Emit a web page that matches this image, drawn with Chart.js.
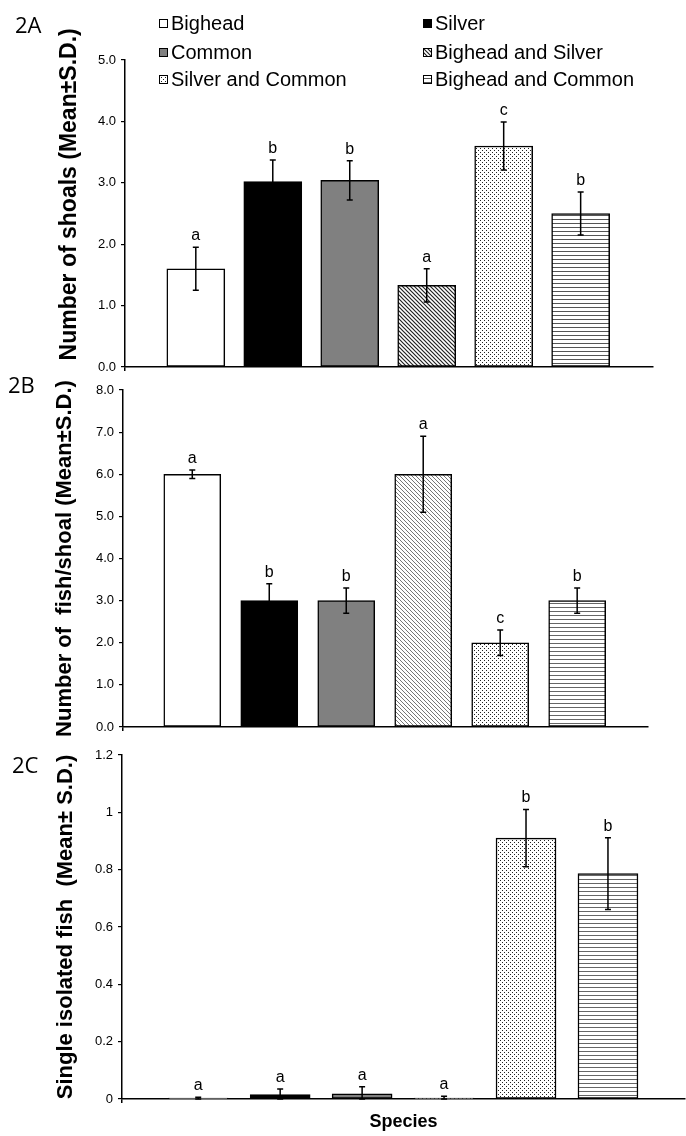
<!DOCTYPE html>
<html>
<head>
<meta charset="utf-8">
<script src="https://cdn.jsdelivr.net/npm/chart.js@4.4.1/dist/chart.umd.min.js"></script>
<style>
  html, body { margin: 0; padding: 0; background: #fff; }
  #page { position: relative; width: 686px; height: 1136px; overflow: hidden; font-family: 'Liberation Sans', Arial, sans-serif; }
  #page canvas.panel { position: absolute; left: 0; top: 0; }
  .tag { position: absolute; font-family: 'Open Sans', sans-serif; font-size: 22px; line-height: 22px; color: #000; }
  .key { position: absolute; height: 24px; line-height: 24px; font-size: 20px; color: #000; display: flex; align-items: center; white-space: nowrap; }
  .key canvas { margin-right: 3px; }
</style>
</head>
<body>
<div id="page">
  <canvas id="chartA" class="panel" width="686" height="1136"></canvas>
  <canvas id="chartB" class="panel" width="686" height="1136"></canvas>
  <canvas id="chartC" class="panel" width="686" height="1136"></canvas>
  <div class="tag" style="left:15px;top:13px">2A</div>
  <div class="tag" style="left:8px;top:373px">2B</div>
  <div class="tag" style="left:12px;top:753px">2C</div>
  <div id="legend"></div>
</div>
<script>
const species = ['Bighead', 'Silver', 'Common', 'Bighead and Silver', 'Silver and Common', 'Bighead and Common'];

// 2A - number of shoals
const shoalMean = [1.6, 3.02, 3.04, 1.33, 3.6, 2.5];
const shoalSD = [0.35, 0.35, 0.32, 0.27, 0.39, 0.35];
const shoalLetters = ['a', 'b', 'b', 'a', 'c', 'b'];

// 2B - number of fish per shoal
const fishMean = [6.0, 3.0, 3.0, 6.0, 2.0, 3.0];
const fishSD = [0.1, 0.4, 0.3, 0.9, 0.3, 0.3];
const fishLetters = ['a', 'b', 'b', 'a', 'c', 'b'];

// 2C - single isolated fish
const singleMean = [0.003, 0.015, 0.018, 0.003, 0.91, 0.786];
const singleSD = [0.003, 0.02, 0.025, 0.007, 0.1, 0.125];
const singleLetters = ['a', 'a', 'a', 'a', 'b', 'b'];

const FONT = "'Liberation Sans', Arial, sans-serif";
const helper = document.getElementById('chartA').getContext('2d');

function tile(w, h, draw) {
  const c = document.createElement('canvas');
  c.width = w; c.height = h;
  const g = c.getContext('2d');
  g.fillStyle = '#fff';
  g.fillRect(0, 0, w, h);
  draw(g);
  return helper.createPattern(c, 'repeat');
}
function diagonal(color, lw) {
  return tile(4, 4, g => {
    g.strokeStyle = color; g.lineWidth = lw;
    g.beginPath();
    g.moveTo(-1, -1); g.lineTo(5, 5);
    g.moveTo(3, -1); g.lineTo(5, 1);
    g.moveTo(-1, 3); g.lineTo(1, 5);
    g.stroke();
  });
}
function dots(color) {
  return tile(4, 4, g => {
    g.fillStyle = color;
    g.fillRect(0, 0, 1, 1);
    g.fillRect(2, 2, 1, 1);
  });
}
function hlines(color) {
  return tile(4, 4, g => {
    g.fillStyle = color;
    g.fillRect(0, 3, 4, 1);
  });
}

const fillsA = ['#ffffff', '#000000', '#808080', diagonal('#222', 1.2), dots('#222'), hlines('#555')];
const fillsB = ['#ffffff', '#000000', '#808080', diagonal('#777', 1), dots('#222'), hlines('#666')];

const errorBars = {
  id: 'errorBars',
  afterDatasetsDraw(chart) {
    const ctx = chart.ctx;
    const ds = chart.data.datasets[0];
    const y = chart.scales.y;
    chart.getDatasetMeta(0).data.forEach((bar, i) => {
      const m = ds.data[i].y, s = ds.sd[i];
      const top = y.getPixelForValue(m + s);
      const bot = y.getPixelForValue(Math.max(m - s, 0));
      ctx.save();
      ctx.strokeStyle = '#000';
      ctx.lineWidth = 1.5;
      ctx.beginPath();
      ctx.moveTo(bar.x, top); ctx.lineTo(bar.x, bot);
      ctx.moveTo(bar.x - 3, top); ctx.lineTo(bar.x + 3, top);
      ctx.moveTo(bar.x - 3, bot); ctx.lineTo(bar.x + 3, bot);
      ctx.stroke();
      ctx.fillStyle = '#000';
      ctx.font = '16px ' + FONT;
      ctx.textAlign = 'center';
      ctx.fillText(ds.letters[i], bar.x, top - 7);
      ctx.restore();
    });
  }
};

function panel(id, means, sds, letters, fills, f) {
  const xHeight = f.xTitle ? 34 : 0;
  const padLeft = f.titleX - f.titleSize * 0.6;
  new Chart(document.getElementById(id), {
    type: 'bar',
    data: {
      datasets: [{
        data: means.map((m, i) => ({ x: i + 1, y: m })),
        sd: sds,
        letters: letters,
        backgroundColor: fills,
        borderColor: '#000',
        borderWidth: 1.5,
        borderSkipped: false,
        barThickness: f.barW
      }]
    },
    options: {
      responsive: false,
      animation: false,
      layout: { padding: { top: f.top, bottom: 1136 - f.bottom - xHeight, left: padLeft, right: 686 - f.right } },
      plugins: { legend: { display: false }, tooltip: { enabled: false } },
      scales: {
        x: {
          type: 'linear',
          offset: false,
          min: f.xMin,
          max: f.xMax,
          afterBuildTicks: s => { s.ticks = [{ value: s.max }]; },
          afterFit: s => { s.height = xHeight; },
          ticks: { display: false },
          grid: { drawOnChartArea: false, tickLength: 4, color: '#000', lineWidth: 1.5 },
          border: { color: '#000', width: 1.5 },
          title: {
            display: !!f.xTitle,
            text: f.xTitle,
            color: '#000',
            padding: 0,
            font: { family: FONT, size: 18, weight: 'bold' }
          }
        },
        y: {
          min: 0,
          max: f.yMax,
          afterFit: s => { s.width = f.left - padLeft; },
          ticks: {
            stepSize: f.step,
            padding: 5,
            color: '#000',
            font: { family: FONT, size: 13 },
            callback: f.tickFormat
          },
          grid: { drawOnChartArea: false, tickLength: 4, color: '#000', lineWidth: 1.2 },
          border: { color: '#000', width: 1.5 },
          title: {
            display: true,
            text: f.yTitle,
            color: '#000',
            padding: 0,
            font: { family: FONT, size: f.titleSize, weight: 'bold' }
          }
        }
      }
    },
    plugins: [errorBars]
  });
}

const oneDecimal = v => v.toFixed(1);
const trimmed = v => String(Math.round(v * 10) / 10);

panel('chartA', shoalMean, shoalSD, shoalLetters, fillsA, {
  top: 60, bottom: 367, left: 125, right: 653, titleX: 70, titleSize: 23,
  xMin: 0.08, xMax: 6.94, yMax: 5, step: 1, tickFormat: oneDecimal, barW: 58,
  yTitle: '      Number of shoals (Mean\u00b1S.D.)'
});
panel('chartB', fishMean, fishSD, fishLetters, fillsB, {
  top: 390, bottom: 727, left: 123, right: 648, titleX: 65, titleSize: 22,
  xMin: 0.10, xMax: 6.92, yMax: 8, step: 1, tickFormat: oneDecimal, barW: 57,
  yTitle: 'Number of  fish/shoal (Mean\u00b1S.D.)'
});
panel('chartC', singleMean, singleSD, singleLetters, fillsB, {
  top: 755, bottom: 1099, left: 122, right: 685, titleX: 66, titleSize: 22,
  xMin: 0.07, xMax: 6.94, yMax: 1.2, step: 0.2, tickFormat: trimmed, barW: 60,
  yTitle: 'Single isolated fish  (Mean\u00b1 S.D.)', xTitle: 'Species'
});

// legend, two columns by three rows
const legend = document.getElementById('legend');
species.forEach((name, i) => {
  const item = document.createElement('div');
  item.className = 'key';
  item.style.left = (i % 2 === 0 ? 159 : 423) + 'px';
  item.style.top = [11, 40, 67][Math.floor(i / 2)] + 'px';
  const sw = document.createElement('canvas');
  sw.width = 9; sw.height = 9;
  const g = sw.getContext('2d');
  g.fillStyle = fillsA[i];
  g.fillRect(0, 0, 9, 9);
  g.strokeStyle = '#000';
  g.lineWidth = 1;
  g.strokeRect(0.5, 0.5, 8, 8);
  item.appendChild(sw);
  item.appendChild(document.createTextNode(name));
  legend.appendChild(item);
});
</script>
</body>
</html>
